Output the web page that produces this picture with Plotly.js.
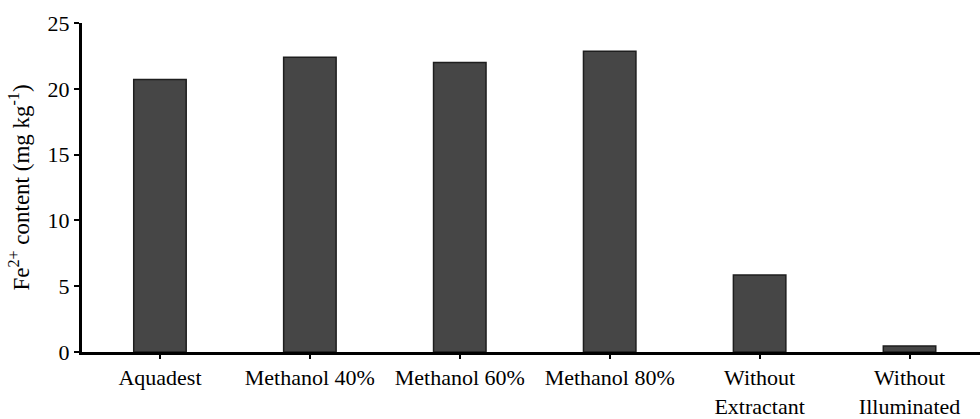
<!DOCTYPE html>
<html>
<head>
<meta charset="utf-8">
<script src="https://cdn.plot.ly/plotly-3.0.1.min.js"></script>
<style>html,body{margin:0;padding:0;background:#fff;}#chart{width:980px;height:419px;}</style>
</head>
<body>
<div id="chart"></div>
<script>
const categories = ["Aquadest", "Methanol 40%", "Methanol 60%", "Methanol 80%", "Without Extractant", "Without Illuminated"];
const tickLabels = ["Aquadest", "Methanol 40%", "Methanol 60%", "Methanol 80%", "Without<br>Extractant", "Without<br>Illuminated"];
const fe2Content = [20.7, 22.4, 22.0, 22.85, 5.85, 0.45];
const yTicks = [0, 5, 10, 15, 20, 25];

const fam = "Liberation Serif, Times New Roman, serif";

Plotly.newPlot("chart", [{
  type: "bar",
  x: categories,
  y: fe2Content,
  width: 0.35,
  marker: {color: "#464646", line: {color: "#1e1e1e", width: 1.5}},
  hoverinfo: "none"
}], {
  width: 980, height: 419,
  margin: {l: 82, r: 0, t: 23, b: 67, pad: 0},
  paper_bgcolor: "#fff", plot_bgcolor: "#fff",
  font: {family: fam, color: "#000", size: 22},
  showlegend: false,
  xaxis: {
    type: "category",
    range: [-0.52, 5.47],
    tickvals: categories,
    ticktext: tickLabels,
    ticks: "outside", ticklen: 4, tickwidth: 2, tickcolor: "#000",
    showline: true, linecolor: "#000", linewidth: 3,
    showgrid: false, zeroline: false,
    tickfont: {family: fam, size: 22, color: "#000"}
  },
  yaxis: {
    range: [0, 25],
    tickvals: yTicks,
    ticks: "outside", ticklen: 5, tickwidth: 2, tickcolor: "#000",
    showline: true, linecolor: "#000", linewidth: 3,
    showgrid: false, zeroline: false,
    tickfont: {family: fam, size: 22, color: "#000"},
    title: {text: "Fe<sup>2+</sup> content (mg kg<sup>-1</sup>)", font: {family: fam, size: 23, color: "#000"}, standoff: 12}
  }
}, {displayModeBar: false, staticPlot: true});
</script>
</body>
</html>
